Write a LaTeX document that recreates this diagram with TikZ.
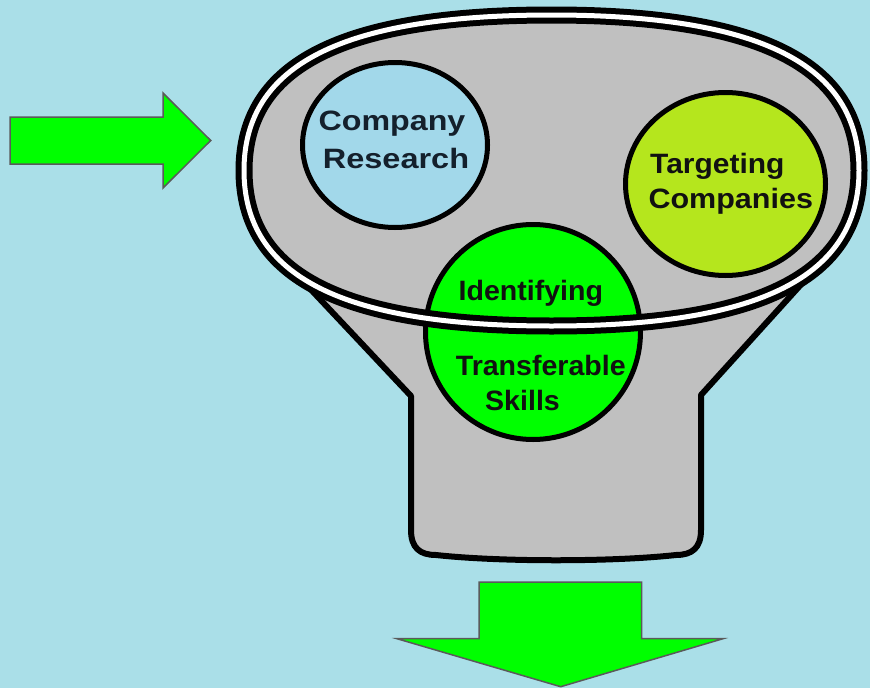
\documentclass[tikz,border=0pt]{standalone}
\usepackage{fontspec}
\setmainfont{Liberation Sans}
\usetikzlibrary{shapes.geometric}

\definecolor{skyback}{HTML}{AADFE8}
\definecolor{funnelgray}{HTML}{C0C0C0}
\definecolor{researchblue}{HTML}{A2D8EA}
\definecolor{targetlime}{HTML}{B5E61D}
\definecolor{skillgreen}{HTML}{00FF00}
\definecolor{arrowgreen}{HTML}{00FF00}
\definecolor{arrowedge}{HTML}{5A5A5A}
\definecolor{navytext}{HTML}{14202C}
\definecolor{darktext}{HTML}{111111}

\tikzset{
  bubble/.style={ellipse, draw=black, line width=5pt, inner sep=0pt},
  lbl/.style={inner sep=0pt, font=\fontsize{28}{34}\selectfont\bfseries},
  bigarrow/.style={fill=arrowgreen, draw=arrowedge, line width=1.5pt, line join=miter},
  funnelbody/.style={fill=funnelgray, draw=black, line width=6pt, line join=round},
}

\begin{document}
\begin{tikzpicture}[x=1pt, y=-1pt]
  % canvas
  \fill[skyback] (0,0) rectangle (870,688);
  \useasboundingbox (0,0) rectangle (870,688);

  % incoming arrow
  \draw[bigarrow] (10,117) -- (163,117) -- (163,93) -- (210.7,140.5)
    -- (163,188) -- (163,164) -- (10,164) -- cycle;

  % outgoing arrow
  \draw[bigarrow] (479,582) -- (641.7,582) -- (641.7,638.7) -- (723,638.7)
    -- (560.7,686.7) -- (397,638.7) -- (479,638.7) -- cycle;

  % funnel neck and spout
  \draw[funnelbody] (285,262) -- (411,396) -- (411,530)
    .. controls (411,548) and (420,555) .. (436,555)
    .. controls (500,562) and (612,562) .. (676,555)
    .. controls (692,555) and (701,548) .. (701,530)
    -- (701,395) -- (825,258) -- cycle;

  % funnel mouth
  \path[save path=\rimpath]
    (859,170.5) .. controls (859,276.2) and (760.6,326) .. (551.5,326)
    .. controls (342.4,326) and (244,276.2) .. (244,170.5)
    .. controls (244,64.8) and (342.4,15) .. (551.5,15)
    .. controls (760.6,15) and (859,64.8) .. (859,170.5) -- cycle;
  \path[use path=\rimpath, fill=funnelgray];

  % topic bubbles
  \node[bubble, fill=researchblue, minimum width=185pt, minimum height=165pt]
    (research) at (395,145) {};
  \node[bubble, fill=targetlime, minimum width=200pt, minimum height=183pt]
    (targeting) at (725.5,184) {};
  \node[bubble, fill=skillgreen, minimum width=215pt, minimum height=215pt]
    (skills) at (533,332) {};

  % rim drawn over the bubbles
  \path[use path=\rimpath, draw=black, line width=17pt];
  \path[use path=\rimpath, draw=white, line width=5pt];

  % labels
  \node[lbl, text=navytext, anchor=base, xscale=1.15] (researchA) at (392,130) {Company};
  \node[lbl, text=navytext, anchor=base, xscale=1.16] (researchB) at (396,168.3) {Research};
  \node[lbl, text=darktext, anchor=base west, xscale=1.07] (targetA) at (650,173.3) {Targeting};
  \node[lbl, text=darktext, anchor=base west, xscale=1.09] (targetB) at (648.3,208.3) {Companies};
  \node[lbl, text=darktext, anchor=base, xscale=1.02] (skillA) at (530.8,300) {Identifying};
  \node[lbl, text=darktext, anchor=base, xscale=1.02] (skillB) at (540.8,375) {Transferable};
  \node[lbl, text=darktext, anchor=base, xscale=1.02] (skillC) at (522.5,410) {Skills};
\end{tikzpicture}
\end{document}
